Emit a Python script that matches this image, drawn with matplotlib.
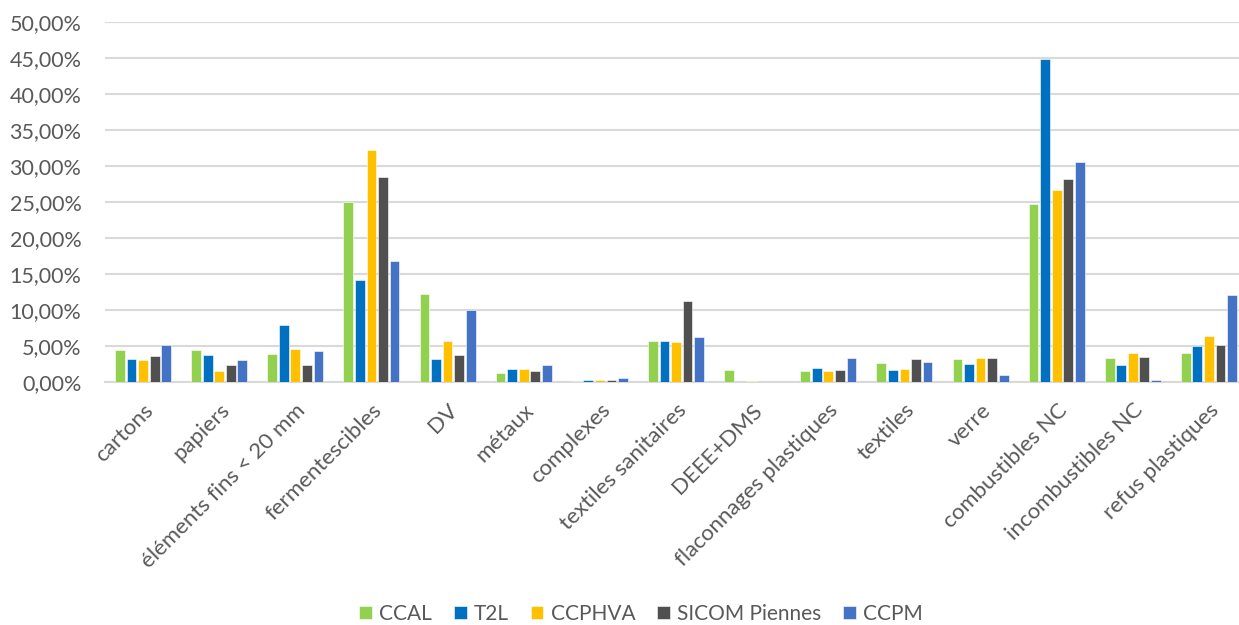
import numpy as np
import matplotlib
matplotlib.use("Agg")
import matplotlib.pyplot as plt
from matplotlib.ticker import FuncFormatter

categories = ["cartons", "papiers", "éléments fins < 20 mm", "fermentescibles", "DV",
              "métaux", "complexes", "textiles sanitaires", "DEEE+DMS",
              "flaconnages plastiques", "textiles", "verre", "combustibles NC",
              "incombustibles NC", "refus plastiques"]

series_names = ["CCAL", "T2L", "CCPHVA", "SICOM Piennes", "CCPM"]
colors = ["#92D050", "#0070C0", "#FFC000", "#505050", "#4472C4"]

ccal = [4.4, 4.5, 3.9, 25.0, 12.2, 1.3, 0.2, 5.7, 1.6, 1.5, 2.7, 3.25, 24.7, 3.3, 4.0]
t2l = [3.2, 3.75, 7.9, 14.2, 3.15, 1.85, 0.3, 5.65, 0.0, 1.95, 1.7, 2.55, 44.9, 2.4, 5.0]
ccphva = [3.0, 1.5, 4.6, 32.2, 5.7, 1.85, 0.3, 5.55, 0.15, 1.5, 1.8, 3.35, 26.6, 4.0, 6.4]
sicom = [3.65, 2.4, 2.4, 28.5, 3.7, 1.5, 0.25, 11.2, 0.0, 1.7, 3.2, 3.3, 28.2, 3.5, 5.1]
ccpm = [5.1, 3.05, 4.3, 16.85, 9.95, 2.3, 0.5, 6.2, 0.0, 3.3, 2.8, 0.95, 30.6, 0.3, 12.1]

data = [ccal, t2l, ccphva, sicom, ccpm]

plt.rcParams['font.family'] = ['Lato', 'DejaVu Sans']
text_color = "#595959"

fig = plt.figure(figsize=(12.39, 6.25), dpi=100)
ax = fig.add_axes([105 / 1239, 1 - 382 / 625, 1142 / 1239, 360 / 625])

x = np.arange(len(categories))
step = 0.152
width = 0.128
for i, (name, vals) in enumerate(zip(series_names, data)):
    ax.bar(x + (i - 2) * step, np.array(vals) / 100, width, color=colors[i],
           edgecolor="white", linewidth=0.4, label=name, zorder=3)

ax.set_xlim(-0.5, len(categories) - 0.5)
ax.set_ylim(0, 0.5)
ax.set_yticks(np.arange(0, 0.51, 0.05))
ax.yaxis.set_major_formatter(FuncFormatter(lambda v, p: f"{v * 100:.2f}%".replace(".", ",")))
ax.grid(axis="y", color="#D9D9D9", linewidth=1.5, zorder=0)
for s in ["top", "right", "left"]:
    ax.spines[s].set_visible(False)
ax.spines["bottom"].set_color("#D9D9D9")
ax.spines["bottom"].set_linewidth(1.5)
ax.tick_params(axis="both", length=0, colors=text_color, labelsize=15.5)
ax.tick_params(axis="y", pad=17)

ax.set_xticks(x)
ax.set_xticklabels(categories, rotation=45, ha="right", va="top",
                   rotation_mode="anchor", color=text_color, fontsize=16)
ax.tick_params(axis="x", pad=13)

handles, labels = ax.get_legend_handles_labels()
leg = fig.legend(handles, labels, loc="center", bbox_to_anchor=(641 / 1239, 1 - 614 / 625),
                 ncol=5, frameon=False, fontsize=15, handlelength=0.6, handleheight=0.6,
                 handletextpad=0.35, columnspacing=1.05)
for t in leg.get_texts():
    t.set_color(text_color)

fig.savefig("out.png", dpi=100)
